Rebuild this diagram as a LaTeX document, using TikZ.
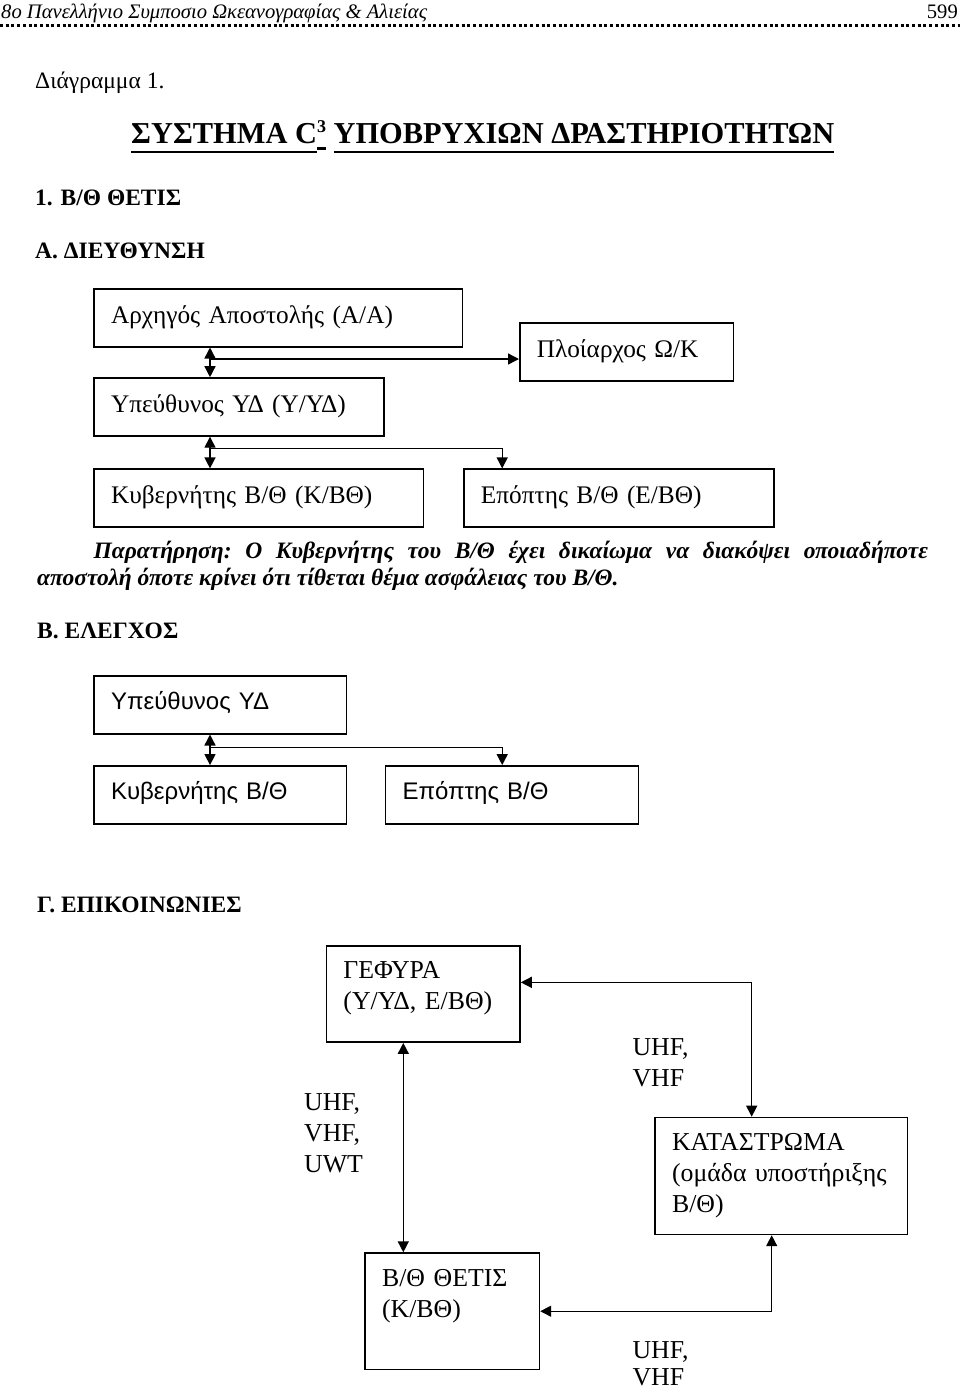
\documentclass[tikz,border=0pt]{standalone}
\usepackage{fontspec}
\setmainfont{Liberation Serif}
\setsansfont{Liberation Sans}
\usetikzlibrary{positioning,arrows.meta}

\newcommand{\bxfont}{\fontsize{25.3}{31}\selectfont}
\newcommand{\tbxfont}{\fontsize{25.8}{31}\selectfont}
\newcommand{\sbxfont}{\sffamily\fontsize{24}{31}\selectfont}
\newcommand{\hdfont}{\fontsize{20.6}{24}\selectfont}
\newcommand{\dgfont}{\fontsize{23.5}{26}\selectfont}
\newcommand{\ttlfont}{\bfseries\fontsize{30.4}{34}\selectfont}
\newcommand{\secfont}{\bfseries\fontsize{23.5}{26}\selectfont}
\newcommand{\rmkfont}{\bfseries\itshape\frenchspacing\fontsize{23.5}{27}\selectfont}
\newcommand{\thickul}[2][-10pt]{\setbox0=\hbox{#2}\rlap{\rule[#1]{\wd0}{2.4pt}}\box0\relax}
\newcommand{\supthree}{\raisebox{11pt}{\fontsize{18}{18}\selectfont 3}}

\tikzset{
	box/.style={draw, line width=1.5pt, anchor=north west, align=left,
		inner xsep=17pt, inner ysep=0pt, text width=#1,
		text height=34.5pt, text depth=23.5pt, font=\bxfont},
	sbox/.style={box=#1, text height=33.5pt, text depth=24.5pt, font=\sbxfont},
	tbox/.style={box=#1, text height=33pt, font=\tbxfont},
	lbl/.style={anchor=base west, align=left, inner sep=0pt, text width=80pt, font=\tbxfont},
	head/.style={anchor=base west, inner sep=0pt},
	link/.style={line width=1.4pt},
	onehead/.style={link, -{Triangle[length=11pt,width=11pt]}},
	twohead/.style={link, {Triangle[length=11pt,width=11pt]}-{Triangle[length=11pt,width=11pt]}}
}

\begin{document}
\begin{tikzpicture}[x=1pt, y=-1pt]
	\useasboundingbox (0,0) rectangle (960,1393);
	
	% page head
	\node[head, font=\hdfont\itshape] (page) at (1,18) {8ο Πανελλήνιο Συμποσιο Ωκεανογραφίας \& Αλιείας};
	\node[head, anchor=base east, font=\hdfont] (pnum) at (958,18) {599};
	\draw[line width=3pt, dash pattern=on 3pt off 2.7pt] (0,25) -- (960,25);
	
	\node[head, font=\dgfont] (diag) at (35,88) {Διάγραμμα 1.};
	\node[head, font=\ttlfont] (title) at (131,143)
		{\thickul{ΣΥΣΤΗΜΑ C}\thickul[-6.5pt]{\supthree} \thickul{ΥΠΟΒΡΥΧΙΩΝ ΔΡΑΣΤΗΡΙΟΤΗΤΩΝ}};
	\node[head, font=\secfont] (sub) at (35,205) {1. Β/Θ ΘΕΤΙΣ};
	
	% A. management
	\node[head, font=\secfont] (secA) at (35,258.3) {Α. ΔΙΕΥΘΥΝΣΗ};
	\node[box=334.4pt] (aa) at (93.3,288) {Αρχηγός Αποστολής (Α/Α)};
	\node[box=256pt, below=29.7pt of aa.south west, anchor=north west] (yd) {Υπεύθυνος ΥΔ (Υ/ΥΔ)};
	\node[box=295.4pt, below=31.7pt of yd.south west, anchor=north west] (kyb) {Κυβερνήτης Β/Θ (Κ/ΒΘ)};
	\node[box=179.7pt] (plo) at (519,322) {Πλοίαρχος Ω/Κ};
	\node[box=276pt, right=39pt of kyb.north east, anchor=north west] (epo) {Επόπτης Β/Θ (Ε/ΒΘ)};
	
	\coordinate (jA) at (210,359);
	\coordinate (jB) at (210,448.3);
	\draw[twohead] (aa.south -| jA) -- (yd.north -| jA);
	\draw[onehead] (jA) -- (jA -| plo.west);
	\draw[twohead] (yd.south -| jB) -- (kyb.north -| jB);
	\draw[onehead] (jB) -| ([xshift=39pt]epo.north west);
	
	\node[head, font=\rmkfont] (rmk1) at (93.3,558)
		{\makebox[834.4pt][s]{Παρατήρηση: Ο Κυβερνήτης του Β/Θ έχει δικαίωμα να διακόψει οποιαδήποτε}};
	\node[head, font=\rmkfont] (rmk2) at (37,585)
		{αποστολή όποτε κρίνει ότι τίθεται θέμα ασφάλειας του Β/Θ.};
	
	% B. control
	\node[head, font=\secfont] (secB) at (37,638.3) {Β. ΕΛΕΓΧΟΣ};
	\node[sbox=218.4pt] (yd2) at (93.3,675) {Υπεύθυνος ΥΔ};
	\node[sbox=218.4pt, below=30.6pt of yd2.south west, anchor=north west] (kyb2) {Κυβερνήτης Β/Θ};
	\node[sbox=218.7pt, right=37.6pt of kyb2.north east, anchor=north west] (epo2) {Επόπτης Β/Θ};
	
	\coordinate (jC) at (210,747.3);
	\draw[twohead] (yd2.south -| jC) -- (kyb2.north -| jC);
	\draw[onehead] (jC) -| ([xshift=117.4pt]epo2.north west);
	
	% C. communications
	\node[head, font=\secfont] (secC) at (37,912) {Γ. ΕΠΙΚΟΙΝΩΝΙΕΣ};
	\node[tbox=159.6pt, text depth=63.4pt] (gef) at (325.7,945) {ΓΕΦΥΡΑ\\(Υ/ΥΔ, Ε/ΒΘ)};
	\node[tbox=218.4pt, text depth=84pt] (kat) at (654.3,1116.7) {ΚΑΤΑΣΤΡΩΜΑ\\(ομάδα υποστήριξης\\Β/Θ)};
	\node[tbox=140.4pt, text depth=83.3pt] (bth) at (364.3,1252.3) {Β/Θ ΘΕΤΙΣ\\(Κ/ΒΘ)};
	
	\coordinate (jD) at (403.3,0);
	\draw[twohead] (gef.south -| jD) -- (bth.north -| jD);
	\draw[twohead] ([yshift=11.6pt]gef.east) -| ([xshift=97.4pt]kat.north west);
	\draw[twohead] (bth.east) -| ([xshift=117.4pt]kat.south west);
	
	\node[lbl] (fq1) at (304,1110) {UHF,\\VHF,\\UWT};
	\node[lbl] (fq2) at (632.3,1055) {UHF,\\VHF};
	\node[lbl, font=\fontsize{25.8}{27}\selectfont] (fq3) at (632.3,1358) {UHF,\\VHF};
\end{tikzpicture}
\end{document}
